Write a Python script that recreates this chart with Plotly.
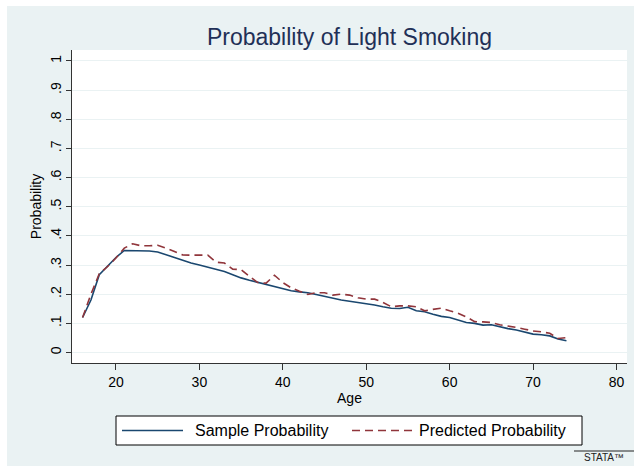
import plotly.graph_objects as go

ages = list(range(16, 75))

sample_prob = [
    0.120, 0.180, 0.267, 0.295, 0.326, 0.350, 0.350, 0.349, 0.348, 0.345,
    0.335, 0.325, 0.316, 0.307, 0.300, 0.293, 0.286, 0.278, 0.267, 0.256,
    0.248, 0.241, 0.233, 0.227, 0.218, 0.212, 0.208, 0.205, 0.199, 0.193,
    0.185, 0.180, 0.176, 0.172, 0.168, 0.163, 0.157, 0.152, 0.151, 0.155,
    0.143, 0.140, 0.131, 0.124, 0.120, 0.111, 0.103, 0.100, 0.094, 0.095,
    0.088, 0.082, 0.077, 0.071, 0.063, 0.061, 0.057, 0.046, 0.040,
]

predicted_prob = [
    0.120, 0.200, 0.270, 0.295, 0.324, 0.358, 0.373, 0.366, 0.366, 0.368,
    0.358, 0.347, 0.335, 0.334, 0.334, 0.334, 0.310, 0.307, 0.286, 0.284,
    0.261, 0.240, 0.238, 0.265, 0.240, 0.222, 0.210, 0.199, 0.205, 0.205,
    0.197, 0.200, 0.197, 0.188, 0.183, 0.183, 0.172, 0.157, 0.160, 0.160,
    0.157, 0.143, 0.148, 0.152, 0.143, 0.135, 0.122, 0.106, 0.105, 0.103,
    0.095, 0.091, 0.086, 0.080, 0.074, 0.071, 0.066, 0.048, 0.051,
]

series_names = ["Sample Probability", "Predicted Probability"]

x_ticks = [20, 30, 40, 50, 60, 70, 80]
y_ticks = [0, 0.1, 0.2, 0.3, 0.4, 0.5, 0.6, 0.7, 0.8, 0.9, 1.0]
y_ticklabels = ["0", ".1", ".2", ".3", ".4", ".5", ".6", ".7", ".8", ".9", "1"]

BG = "#EAF2F3"
BLUE = "#1A476F"
RED = "#90353B"
DASH = "8px,5px"
FONT = "Liberation Sans, Arial, sans-serif"

W, H = 634, 466
ML, MR, MT, MB = 72, 7, 50, 103
PW, PH = W - ML - MR, H - MT - MB

def px_x(px):
    return (px - ML) / PW

def px_y(py):
    return (H - MB - py) / PH

fig = go.Figure()
fig.add_trace(go.Scatter(
    x=ages, y=sample_prob, mode="lines", name=series_names[0],
    line=dict(color=BLUE, width=1.6),
))
fig.add_trace(go.Scatter(
    x=ages, y=predicted_prob, mode="lines", name=series_names[1],
    line=dict(color=RED, width=1.6, dash=DASH),
))

# legend box (Stata style, below the plot)
LEG_Y = 430.5
shapes = [
    dict(type="rect", xref="paper", yref="paper",
         x0=px_x(0), x1=px_x(7), y0=px_y(H), y1=px_y(0),
         fillcolor="white", line=dict(width=0), layer="below"),
    dict(type="rect", xref="paper", yref="paper",
         x0=px_x(0), x1=px_x(W), y0=px_y(6), y1=px_y(0),
         fillcolor="white", line=dict(width=0), layer="below"),
    dict(type="rect", xref="paper", yref="paper",
         x0=px_x(116), x1=px_x(582), y0=px_y(445), y1=px_y(416),
         fillcolor="white", line=dict(color="black", width=1)),
    dict(type="line", xref="paper", yref="paper",
         x0=px_x(122), x1=px_x(183), y0=px_y(LEG_Y), y1=px_y(LEG_Y),
         line=dict(color=BLUE, width=1.6)),
    dict(type="line", xref="paper", yref="paper",
         x0=px_x(352), x1=px_x(413), y0=px_y(LEG_Y), y1=px_y(LEG_Y),
         line=dict(color=RED, width=1.6, dash=DASH)),
    dict(type="line", xref="paper", yref="paper",
         x0=px_x(574), x1=px_x(634), y0=px_y(451), y1=px_y(451),
         line=dict(color="#222", width=1)),
]

annotations = [
    dict(text=series_names[0], xref="paper", yref="paper",
         x=px_x(193), y=px_y(LEG_Y), xanchor="left", yanchor="middle",
         showarrow=False, font=dict(size=16, color="black", family=FONT)),
    dict(text=series_names[1], xref="paper", yref="paper",
         x=px_x(417), y=px_y(LEG_Y), xanchor="left", yanchor="middle",
         showarrow=False, font=dict(size=16, color="black", family=FONT)),
    dict(text="STATA™", xref="paper", yref="paper",
         x=px_x(604), y=px_y(457), xanchor="center", yanchor="middle",
         showarrow=False, font=dict(size=10, color="#222", family=FONT)),
]

fig.update_layout(
    width=W, height=H,
    margin=dict(l=ML, r=MR, t=MT, b=MB, pad=0),
    paper_bgcolor=BG,
    plot_bgcolor="white",
    font=dict(family=FONT, color="black"),
    title=dict(
        text="Probability of Light Smoking",
        font=dict(size=23, color="#1F3057", family=FONT),
        x=0.5, xref="paper", xanchor="center",
        y=1 - 37 / H, yref="container", yanchor="middle",
    ),
    xaxis=dict(
        range=[14.73, 81.26],
        tickmode="array", tickvals=x_ticks,
        ticks="outside", ticklen=6, tickcolor="#333", tickwidth=1,
        showline=True, linecolor="#333", linewidth=1,
        showgrid=False, zeroline=False,
        tickfont=dict(size=14),
        title=dict(text="Age", font=dict(size=14), standoff=2),
    ),
    yaxis=dict(
        range=[-0.036, 1.0377],
        tickmode="array", tickvals=y_ticks, ticktext=y_ticklabels,
        tickangle=-90,
        ticks="outside", ticklen=5, tickcolor="#333", tickwidth=1,
        ticklabelstandoff=-1,
        showline=True, linecolor="#333", linewidth=1,
        showgrid=True, gridcolor=BG, gridwidth=1,
        zeroline=False,
        tickfont=dict(size=14),
        title=dict(text="Probability", font=dict(size=14), standoff=3),
    ),
    showlegend=False,
    shapes=shapes,
    annotations=annotations,
)

fig.write_html("out.html")
